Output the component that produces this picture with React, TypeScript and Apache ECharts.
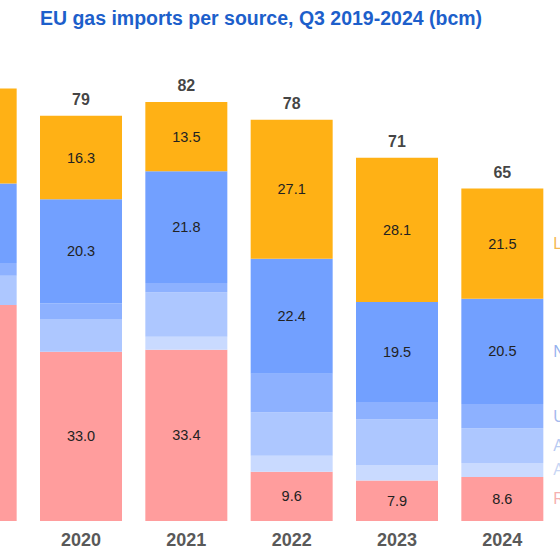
import React, { useEffect, useRef } from "react";
import * as echarts from "echarts";

const years = ["2019", "2020", "2021", "2022", "2023", "2024"];
const seriesNames = ["Russia", "Azerbaijan", "Algeria", "UK", "Norway", "LNG"];
const russia = [42.1, 33.0, 33.4, 9.6, 7.9, 8.6];
const azerbaijan = [0, 0, 2.5, 3.1, 2.9, 2.7];
const algeria = [5.7, 6.4, 8.7, 8.5, 9.0, 6.8];
const uk = [2.5, 3.0, 1.8, 7.5, 3.4, 4.7];
const norway = [15.5, 20.3, 21.8, 22.4, 19.5, 20.5];
const lng = [18.5, 16.3, 13.5, 27.1, 28.1, 21.5];
const labelled = ["Russia", "Norway", "LNG"];

const barColors = ["#FF9D9D", "#C9DAFF", "#ADC7FF", "#8DB1FF", "#72A0FF", "#FFB115"];
const sideLabelColors = ["#F39A9A", "#B9CBF2", "#A6BDF0", "#8EA9EA", "#7B9DEA", "#F2A623"];

export default function App() {
  const ref = useRef<HTMLDivElement>(null);
  useEffect(() => {
    if (!ref.current) return;
    const chart = echarts.init(ref.current, undefined, { renderer: "svg" });
    const values = [russia, azerbaijan, algeria, uk, norway, lng];
    const totals = years.map((_, i) => values.reduce((s, arr) => s + arr[i], 0));
    const last = years.length - 1;
    const barSeries = values.map((arr, k) => ({
      name: seriesNames[k],
      type: "bar",
      stack: "total",
      barWidth: 82,
      data: arr,
      itemStyle: { color: barColors[k] },
      label: {
        show: labelled.includes(seriesNames[k]),
        position: "inside",
        color: "#222",
        fontSize: 14.5,
        fontFamily: "Liberation Sans",
        formatter: (p: any) => (p.value > 0 ? Number(p.value).toFixed(1) : ""),
      },
    }));
    const sideSeries = values.map((arr, k) => {
      const below = values.slice(0, k).reduce((s, a) => s + a[last], 0);
      const mid = below + arr[last] / 2;
      return {
        type: "scatter",
        symbolSize: 0,
        silent: true,
        data: years.map((_, i) => (i === last ? mid : "-")),
        label: {
          show: true,
          position: "right",
          distance: 51,
          color: sideLabelColors[k],
          fontSize: 16,
          fontFamily: "Liberation Sans",
          formatter: seriesNames[k],
        },
      };
    });
    chart.setOption({
      animation: false,
      title: {
        text: "EU gas imports per source, Q3 2019-2024 (bcm)",
        left: 376,
        textAlign: "center",
        top: 3,
        textStyle: {
          color: "#1D5FCB",
          fontSize: 19.5,
          fontWeight: "bold",
          fontFamily: "Liberation Sans",
        },
      },
      grid: { left: 43, right: 85, top: 59.3, bottom: 39 },
      xAxis: {
        type: "category",
        data: years,
        axisLine: { show: false },
        axisTick: { show: false },
        axisLabel: {
          margin: 10,
          color: "#595959",
          fontSize: 18,
          fontWeight: "bold",
          fontFamily: "Liberation Sans",
        },
      },
      yAxis: { type: "value", min: 0, max: 90, show: false, splitLine: { show: false } },
      series: [
        ...barSeries,
        {
          type: "scatter",
          symbolSize: 0,
          silent: true,
          data: totals,
          label: {
            show: true,
            position: "top",
            distance: 8,
            color: "#111",
            fontSize: 16,
            fontWeight: "bold",
            fontFamily: "Liberation Sans",
            formatter: (p: any) => String(Math.round(p.value)),
          },
        },
        ...sideSeries,
      ],
    });
    return () => chart.dispose();
  }, []);
  return (
    <div
      style={{
        position: "fixed",
        left: 0,
        top: 0,
        width: 560,
        height: 560,
        overflow: "hidden",
        background: "#fff",
      }}
    >
      <div ref={ref} style={{ position: "absolute", left: -120, top: 0, width: 760, height: 560 }} />
    </div>
  );
}
